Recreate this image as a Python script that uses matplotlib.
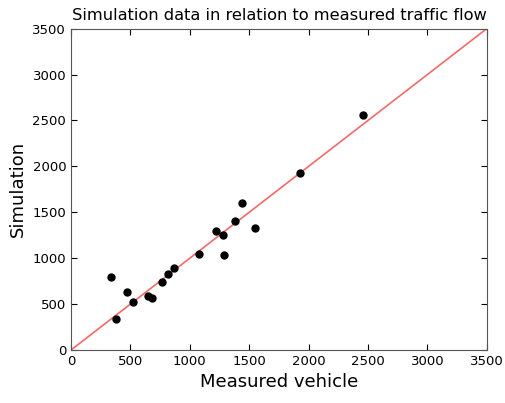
import matplotlib
matplotlib.use('Agg')
import matplotlib.pyplot as plt

# Measured vs simulated traffic flow (vehicles)
measured = [340, 375, 470, 520, 650, 680, 770, 820, 870, 1080,
            1220, 1280, 1290, 1380, 1440, 1550, 1930, 2460]
simulation = [800, 340, 630, 520, 590, 570, 740, 830, 890, 1050,
              1300, 1250, 1040, 1410, 1600, 1330, 1930, 2560]
diag = [0, 3500]
ticks = [0, 500, 1000, 1500, 2000, 2500, 3000, 3500]

fig = plt.figure(figsize=(5.05, 4.03), dpi=100)
ax = fig.add_axes([0.1406, 0.1315, 0.8234, 0.7975])

ax.plot(diag, diag, color='#f26a6a', linewidth=1.2)
ax.plot(measured, simulation, 'o', color='black', markersize=5)

ax.set_xlim(0, 3500)
ax.set_ylim(0, 3500)
ax.set_xticks(ticks)
ax.set_yticks(ticks)
ax.tick_params(direction='in', top=True, right=True, labelsize=9.5, length=4)
for s in ax.spines.values():
    s.set_color('#555555')

ax.set_title('Simulation data in relation to measured traffic flow', fontsize=11.7)
ax.set_xlabel('Measured vehicle', fontsize=13)
ax.set_ylabel('Simulation', fontsize=13)

fig.savefig('out.png', dpi=100)
